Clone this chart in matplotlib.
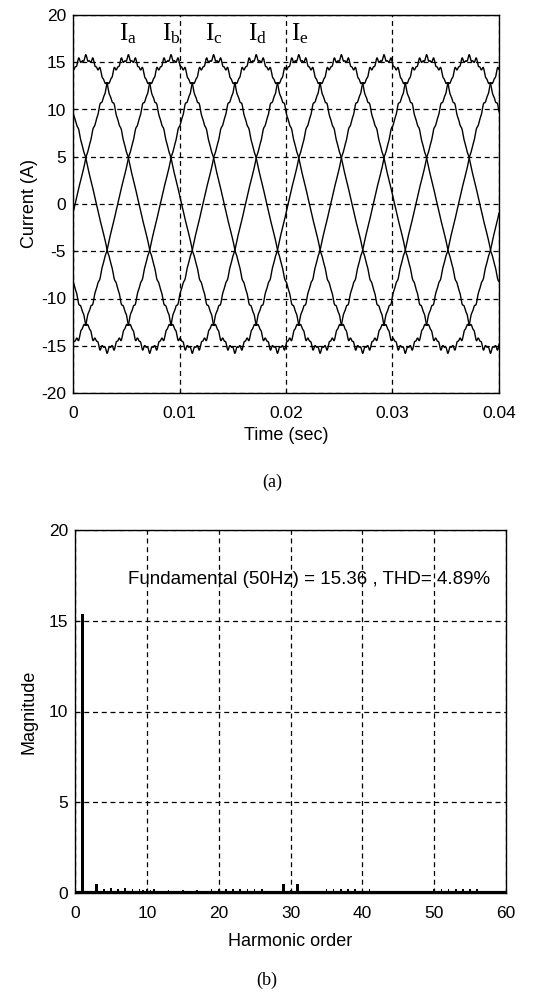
import numpy as np
import matplotlib
matplotlib.use("Agg")
import matplotlib.pyplot as plt

plt.rcParams["font.family"] = ["Liberation Sans", "DejaVu Sans"]
plt.rcParams["mathtext.fontset"] = "custom"
plt.rcParams["mathtext.rm"] = "Liberation Serif"
plt.rcParams["mathtext.it"] = "Liberation Serif"
plt.rcParams["axes.unicode_minus"] = False

# ---- five-phase stator currents ----
phase_names = ["a", "b", "c", "d", "e"]
fund_freq = 50.0            # Hz
fund_amp = 15.36            # A
peak_time = [0.0052, 0.0092, 0.0132, 0.0172, 0.0212]   # time of a positive peak per phase (s)
ripple_order = [29, 31, 59, 61]
ripple_amp = [0.14, 0.14, 0.08, 0.08]
sample_step = 2e-5
t_end = 0.04

label_time = [0.0052, 0.0092, 0.0132, 0.0173, 0.0213]
label_level = 17.3

# ---- harmonic spectrum (half-harmonic resolution) ----
spec_start, spec_step = 0.0, 0.5
spectrum = [
    0.08, 0.06, 15.36, 0.06, 0.06, 0.06, 0.50, 0.06, 0.20, 0.10,
    0.28, 0.12, 0.20, 0.12, 0.26, 0.12, 0.22, 0.12, 0.24, 0.14,
    0.22, 0.14, 0.22, 0.06, 0.06, 0.06, 0.16, 0.06, 0.06, 0.06,
    0.16, 0.06, 0.06, 0.06, 0.16, 0.06, 0.06, 0.06, 0.20, 0.12,
    0.22, 0.12, 0.20, 0.12, 0.22, 0.12, 0.20, 0.12, 0.22, 0.12,
    0.20, 0.12, 0.22, 0.06, 0.06, 0.06, 0.06, 0.06, 0.48, 0.06,
    0.16, 0.06, 0.48, 0.06, 0.06, 0.06, 0.06, 0.06, 0.06, 0.12,
    0.20, 0.12, 0.22, 0.12, 0.20, 0.12, 0.22, 0.12, 0.20, 0.12,
    0.22, 0.12, 0.20, 0.06, 0.06, 0.06, 0.06, 0.06, 0.06, 0.06,
    0.06, 0.06, 0.06, 0.06, 0.06, 0.06, 0.06, 0.06, 0.06, 0.12,
    0.20, 0.12, 0.20, 0.12, 0.20, 0.12, 0.20, 0.12, 0.20, 0.12,
    0.20, 0.12, 0.20, 0.12, 0.06, 0.06, 0.06, 0.06, 0.06, 0.06,
    0.06,
]
fund_text = "Fundamental (50Hz) = 15.36 , THD= 4.89%"

W, H = 549, 994
fig = plt.figure(figsize=(W / 100, H / 100), dpi=100)


def px_axes(left, top, right, bottom):
    return fig.add_axes([left / W, 1 - bottom / H, (right - left) / W, (bottom - top) / H])


grid_kw = dict(color="black", linestyle=(0, (4, 3)), linewidth=0.9)
tick_fs = 12.5
label_fs = 13


def style(ax):
    for s in ax.spines.values():
        s.set_linewidth(1.0)
    ax.tick_params(direction="in", length=3, width=0.8, labelsize=tick_fs)
    ax.tick_params(axis="x", pad=9)
    ax.tick_params(axis="y", pad=5)
    ax.grid(True, **grid_kw)
    ax.set_axisbelow(False)


# ---- (a) time waveforms ----
ax1 = px_axes(73, 15, 499, 393)
t = np.arange(0, t_end + sample_step / 2, sample_step)
w = 2 * np.pi * fund_freq
for tp in peak_time:
    theta = w * (t - tp)
    i = fund_amp * np.cos(theta)
    for h, a in zip(ripple_order, ripple_amp):
        i = i + a * np.cos(h * theta)
    ax1.plot(t, i, color="black", linewidth=1.0)
ax1.set_xlim(0, 0.04)
ax1.set_ylim(-20, 20)
ax1.set_xticks([0, 0.01, 0.02, 0.03, 0.04])
ax1.set_xticklabels(["0", "0.01", "0.02", "0.03", "0.04"])
ax1.set_yticks(np.arange(-20, 21, 5))
style(ax1)
ax1.set_xlabel("Time (sec)", fontsize=label_fs, labelpad=5)
ax1.set_ylabel("Current (A)", fontsize=label_fs, labelpad=2)
for name, tx in zip(phase_names, label_time):
    ax1.text(tx, label_level, r"I$_{\mathrm{" + name + "}}$", fontsize=18,
             family="Liberation Serif", ha="center", va="baseline")
fig.text(272 / W, 1 - 482 / H, "(a)", fontsize=13, family="Liberation Serif",
         ha="center", va="center")

# ---- (b) harmonic spectrum ----
ax2 = px_axes(75, 530, 506, 893)
orders = spec_start + spec_step * np.arange(len(spectrum))
mags = np.array(spectrum)
widths = np.where(mags > 0.3, 0.45, 0.22)
ax2.bar(orders, mags, width=widths, color="black", linewidth=0, zorder=3)
ax2.plot([0, 60], [0, 0], color="black", linewidth=3.0, zorder=3,
         solid_capstyle="butt")
ax2.set_xlim(0, 60)
ax2.set_ylim(0, 20)
ax2.set_xticks(np.arange(0, 61, 10))
ax2.set_yticks(np.arange(0, 21, 5))
style(ax2)
ax2.set_xlabel("Harmonic order", fontsize=label_fs, labelpad=9)
ax2.set_ylabel("Magnitude", fontsize=label_fs, labelpad=8)
ax2.text(7.4, 17.25, fund_text, fontsize=13.5, ha="left", va="center")
fig.text(267 / W, 1 - 980 / H, "(b)", fontsize=13, family="Liberation Serif",
         ha="center", va="center")

fig.savefig("out.png", dpi=100)
